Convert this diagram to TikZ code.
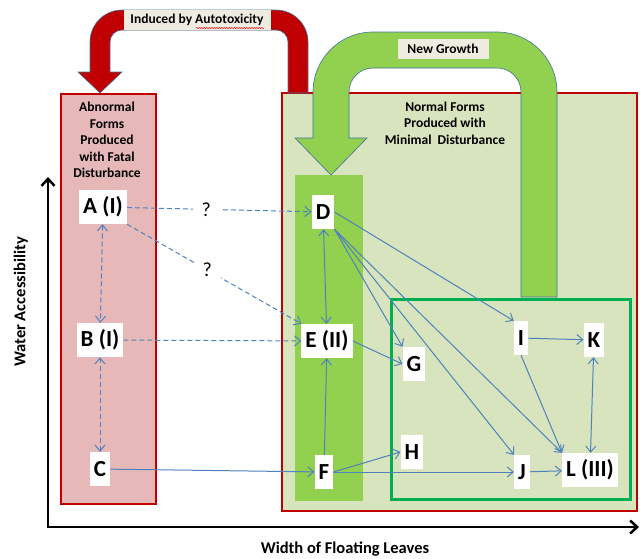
\documentclass[tikz,border=0pt]{standalone}
\usepackage{fontspec}
\setmainfont{Carlito}
\usepackage{tikz}
\usetikzlibrary{calc, arrows.meta, positioning, decorations.pathmorphing}
\definecolor{boxRed}{HTML}{C00000}
\definecolor{palePink}{HTML}{E6B9B8}
\definecolor{paleGreen}{HTML}{D7E4BD}
\definecolor{leafGreen}{HTML}{92D050}
\definecolor{frameGreen}{HTML}{00B050}
\definecolor{linkBlue}{HTML}{4F81BD}
\definecolor{tagGray}{HTML}{EEECE1}
\definecolor{rimBlue}{HTML}{41719C}

\begin{document}
\begin{tikzpicture}[x=1pt, y=-1pt,
    >={Straight Barb[length=6pt,width=10pt]},
    formBox/.style={fill=white, inner xsep=4pt, inner ysep=0pt, minimum height=34pt,
        font=\fontsize{23}{26}\selectfont\bfseries},
    linkLine/.style={draw=linkBlue, line width=1pt, ->},
    guessLine/.style={linkLine, dash pattern=on 5pt off 3pt},
    qMark/.style={fill=white, inner xsep=9pt, inner ysep=1pt, font=\fontsize{20}{22}\selectfont},
    tagBox/.style={fill=tagGray, inner sep=0pt, minimum height=20pt,
        font=\fontsize{13.5}{16}\selectfont\bfseries},
    titleText/.style={align=center, font=\fontsize{13.5}{16.5}\selectfont\bfseries},
    axisText/.style={font=\fontsize{16.5}{19}\selectfont\bfseries},
    bigArrow/.style={draw=rimBlue, line width=0.6pt}]

\useasboundingbox (0,0) rectangle (640,558);

%坐標軸
\draw[line width=2.5pt, {Straight Barb[length=7pt,width=13pt]}-{Straight Barb[length=7pt,width=13pt]}] (48,177) |- (639,527);
\node[axisText, rotate=90] (yLabel) at (21,302) {Water Accessibility};
\node[axisText] (xLabel) at (345,549) {Width of Floating Leaves};

%兩個區域
\draw[boxRed, line width=2.5pt, fill=palePink] (61,94) rectangle (156,504);
\draw[boxRed, line width=2.5pt, fill=paleGreen] (282,93) rectangle (637,511);
\fill[leafGreen] (295,175) rectangle (363,501);
\draw[frameGreen, line width=3pt] (391,299) rectangle (630,499);

\node[titleText] (abnormalTitle) at (107,140) {Abnormal\\Forms\\Produced\\with Fatal\\Disturbance};
\node[titleText] (normalTitle) at (445,123) {Normal Forms\\Produced with\\Minimal~ Disturbance};

%大箭頭
\draw[bigArrow, fill=boxRed] (308,93) -- (308,42) arc[start angle=0, end angle=-90, radius=32]
    -- (122,10) arc[start angle=-90, end angle=-180, radius=32]
    -- (90,72) -- (78,72) -- (100,93) -- (122,72) -- (110,72)
    -- (110,42) arc[start angle=180, end angle=270, radius=12]
    -- (276,30) arc[start angle=270, end angle=360, radius=12]
    -- (288,93) -- cycle;
\draw[bigArrow, fill=leafGreen] (557,297) -- (557,92) arc[start angle=0, end angle=-90, radius=60]
    -- (373,32) arc[start angle=-90, end angle=-180, radius=60]
    -- (313,138) -- (295,138) -- (331,175) -- (367,138) -- (349,138)
    -- (349,92) arc[start angle=180, end angle=270, radius=24]
    -- (497,68) arc[start angle=270, end angle=360, radius=24]
    -- (521,297) -- cycle;

\node[tagBox, minimum width=147pt] (toxTag) at (197,20) {Induced by Autotoxicity};
\draw[red, line width=0.5pt, decorate, decoration={snake, amplitude=0.6pt, segment length=2.5pt}] (196,28) -- (264,28);
\node[tagBox, minimum width=91pt] (growTag) at (443,49) {New Growth};

%葉形
\node[formBox] (formA) at (103,207) {A (I)};
\node[formBox] (formB) at (100,340) {B (I)};
\node[formBox] (formC) at (100,469) {C};
\node[formBox] (formD) at (323,212) {D};
\node[formBox] (formE) at (327,341) {E (II)};
\node[formBox] (formF) at (324,472) {F};
\node[formBox] (formG) at (414,364) {G};
\node[formBox] (formH) at (412,452) {H};
\node[formBox] (formI) at (521,338) {I};
\node[formBox] (formJ) at (522,472) {J};
\node[formBox] (formK) at (594,340) {K};
\node[formBox] (formL) at (590,470) {L (III)};

\draw[guessLine] (formA) -- node[qMark, pos=0.43] (askTop) {?} (formD);
\draw[guessLine] (formA.south east) -- node[qMark, pos=0.46] (askLow) {?} (formE.north west);
\draw[guessLine, <->] (formA) -- (formB);
\draw[guessLine, <->] (formB) -- (formC);
\draw[guessLine] (formB) -- (formE);

\draw[linkLine] (formC) -- (formF);
\draw[linkLine, <->] (formD) -- (formE);
\draw[linkLine] (formF) -- (formE);
\draw[linkLine] (formD.east) -- (formI.north west);
\draw[linkLine] (formD.south east) -- (formG.north west);
\draw[linkLine] (formD.south east) -- (formJ.north west);
\draw[linkLine] (formD.south east) -- (formL.north west);
\draw[linkLine] (formE.east) -- (formG.west);
\draw[linkLine] (formF.east) -- (formH.west);
\draw[linkLine] (formF.east) -- (formJ.west);
\draw[linkLine] (formI) -- (formK);
\draw[linkLine] (formI.south) -- (formL.north west);
\draw[linkLine, <->] (formK) -- (formL);
\draw[linkLine] (formJ) -- (formL);

\end{tikzpicture}
\end{document}
